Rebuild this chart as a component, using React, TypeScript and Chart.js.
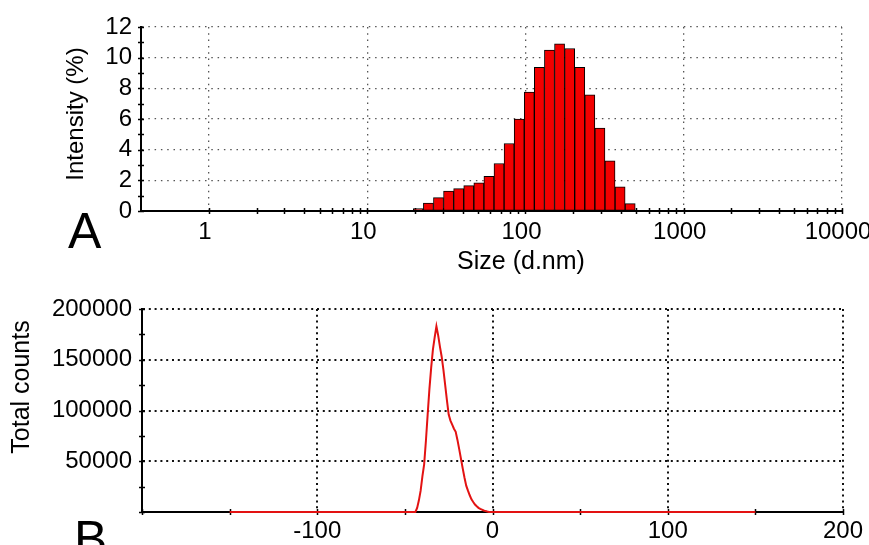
import React, { useEffect, useRef } from "react";
import { Chart, registerables } from "chart.js";

Chart.register(...registerables);

const FONT_FAMILY = '"Liberation Sans", Arial, Helvetica, sans-serif';

// ---- Panel A: size distribution by intensity ----
const sizeNm = [
  21.04, 24.36, 28.21, 32.67, 37.84, 43.82, 50.75, 58.77, 68.06, 78.82, 91.28,
  105.7, 122.4, 141.8, 164.2, 190.1, 220.2, 255.0, 295.3, 342.0, 396.1, 458.7,
];
const intensityPct = [
  0.15, 0.52, 0.87, 1.3, 1.46, 1.65, 1.83, 2.26, 3.1, 4.4, 6.0,
  7.76, 9.37, 10.5, 10.9, 10.6, 9.37, 7.57, 5.4, 3.28, 1.57, 0.48,
];
const sizeTicks = [
  1, 2, 3, 4, 5, 6, 7, 8, 9,
  10, 20, 30, 40, 50, 60, 70, 80, 90,
  100, 200, 300, 400, 500, 600, 700, 800, 900,
  1000, 2000, 3000, 4000, 5000, 6000, 7000, 8000, 9000,
  10000,
];
const sizeLabelled = [1, 10, 100, 1000, 10000];
const intensityTicks = [0, 1, 2, 3, 4, 5, 6, 7, 8, 9, 10, 11, 12];
const intensityLabelled = [0, 2, 4, 6, 8, 10, 12];
const intensityGrid = [2, 4, 6, 8, 10, 12];

// ---- Panel B: zeta potential distribution ----
const zetaMv = [
  -150, -45, -44, -43, -42, -41, -40, -39, -38, -37, -36, -35, -34, -33, -32,
  -31, -30, -29, -28, -27, -26, -25, -24, -23, -22, -21, -20, -19, -18, -17,
  -16, -15, -14, -13, -12, -11, -10, -9, -8, -7, -6, -5, -4, -3, -2, -1, 150,
];
const totalCounts = [
  0, 0, 0, 4000, 11500, 21000, 35000, 47000, 70000, 96000, 121000, 142000,
  160000, 172000, 183000, 174000, 163000, 153000, 140000, 125000, 110000,
  96000, 90000, 86000, 82000, 79000, 71000, 62000, 52500, 43000, 34000, 26000,
  21000, 16500, 12500, 9800, 7400, 5600, 4100, 3000, 2300, 1500, 900, 450, 100,
  0, 0,
];
const zetaTicks = [-200, -150, -100, -50, 0, 50, 100, 150, 200];
const zetaLabelled = [-100, 0, 100, 200];
const countTicks = [0, 25000, 50000, 75000, 100000, 125000, 150000, 175000, 200000];
const countLabelled = [50000, 100000, 150000, 200000];

type TextItem = {
  text: string;
  x: number;
  y: number;
  size: number;
  rotate?: number;
  align?: CanvasTextAlign;
  baseline?: CanvasTextBaseline;
};

// Small "+" marks across both axis lines at every tick the scales hold.
function crossTicks(size: number, width: number) {
  return {
    id: "crossTicks",
    beforeDatasetsDraw(chart: any) {
      const { ctx, chartArea } = chart;
      const xs = chart.scales.x;
      const ys = chart.scales.y;
      ctx.save();
      ctx.strokeStyle = "#000";
      ctx.lineWidth = width;
      ctx.beginPath();
      for (const t of xs.ticks) {
        const px = Math.round(xs.getPixelForValue(t.value)) + 0.5;
        ctx.moveTo(px, chartArea.bottom - size);
        ctx.lineTo(px, chartArea.bottom + size);
      }
      for (const t of ys.ticks) {
        const py = Math.round(ys.getPixelForValue(t.value)) + 0.5;
        ctx.moveTo(chartArea.left - size, py);
        ctx.lineTo(chartArea.left + size, py);
      }
      ctx.stroke();
      ctx.restore();
    },
  };
}

// Axis titles and the panel letter.
function panelText(items: TextItem[]) {
  return {
    id: "panelText",
    afterDraw(chart: any) {
      const ctx = chart.ctx as CanvasRenderingContext2D;
      for (const it of items) {
        ctx.save();
        ctx.font = `${it.size}px ${FONT_FAMILY}`;
        ctx.fillStyle = "#000";
        ctx.textAlign = it.align ?? "center";
        ctx.textBaseline = it.baseline ?? "middle";
        ctx.translate(it.x, it.y);
        if (it.rotate) ctx.rotate(it.rotate);
        ctx.fillText(it.text, 0, 0);
        ctx.restore();
      }
    },
  };
}

const tickFont = { family: FONT_FAMILY, size: 24 };

function SizeChart() {
  const ref = useRef<HTMLCanvasElement>(null);
  useEffect(() => {
    const chart = new Chart(ref.current!, {
      type: "bar",
      data: {
        datasets: [
          {
            data: sizeNm.map((s, i) => ({ x: s, y: intensityPct[i] })),
            backgroundColor: "#f20000",
            borderColor: "#000",
            borderWidth: 1,
            borderSkipped: false,
            barThickness: "flex",
            barPercentage: 1,
            categoryPercentage: 1,
          },
        ],
      },
      options: {
        responsive: false,
        animation: false,
        events: [],
        layout: { padding: { top: 27, right: 27, left: 0, bottom: 0 } },
        plugins: { legend: { display: false }, tooltip: { enabled: false } },
        scales: {
          x: {
            type: "logarithmic",
            min: 0.372,
            max: 10000,
            offset: false,
            afterBuildTicks: (s: any) => {
              s.ticks = sizeTicks.map((v) => ({ value: v }));
            },
            afterFit: (s: any) => {
              s.height = 69;
              s.paddingLeft = 0;
              s.paddingRight = 0;
            },
            ticks: {
              autoSkip: false,
              maxRotation: 0,
              padding: 7,
              labelOffset: -4,
              color: "#000",
              font: tickFont,
              callback: (v: any) => (sizeLabelled.includes(Number(v)) ? String(v) : ""),
            },
            grid: {
              offset: false,
              drawTicks: false,
              lineWidth: 1.3,
              color: (c: any) =>
                c.tick && sizeLabelled.includes(c.tick.value) ? "#555" : "rgba(0,0,0,0)",
            },
            border: { display: true, color: "#000", width: 2, dash: [1.5, 4.8] },
          },
          y: {
            min: 0,
            max: 12,
            afterBuildTicks: (s: any) => {
              s.ticks = intensityTicks.map((v) => ({ value: v }));
            },
            afterFit: (s: any) => {
              s.width = 141;
              s.paddingTop = 0;
              s.paddingBottom = 0;
            },
            ticks: {
              autoSkip: false,
              padding: 9,
              color: "#000",
              font: tickFont,
              callback: (v: any) => (intensityLabelled.includes(Number(v)) ? String(v) : ""),
            },
            grid: {
              drawTicks: false,
              lineWidth: 1.3,
              color: (c: any) =>
                c.tick && intensityGrid.includes(c.tick.value) ? "#555" : "rgba(0,0,0,0)",
            },
            border: { display: true, color: "#000", width: 2, dash: [1.5, 4.8] },
          },
        },
      },
      plugins: [
        crossTicks(3, 1.5),
        panelText([
          { text: "Intensity (%)", x: 76, y: 114, size: 24, rotate: -Math.PI / 2 },
          { text: "Size (d.nm)", x: 521, y: 262, size: 25 },
          { text: "A", x: 68, y: 248, size: 50, align: "left", baseline: "alphabetic" },
        ]),
      ],
    } as any);
    return () => chart.destroy();
  }, []);
  return <canvas ref={ref} width={869} height={280} style={{ display: "block" }} />;
}

function ZetaChart() {
  const ref = useRef<HTMLCanvasElement>(null);
  useEffect(() => {
    const chart = new Chart(ref.current!, {
      type: "line",
      data: {
        datasets: [
          {
            data: zetaMv.map((z, i) => ({ x: z, y: totalCounts[i] })),
            borderColor: "#e31212",
            borderWidth: 2,
            pointRadius: 0,
            tension: 0,
            fill: false,
            clip: false,
          },
        ],
      },
      options: {
        responsive: false,
        animation: false,
        events: [],
        layout: { padding: { top: 29, right: 26, left: 0, bottom: 0 } },
        plugins: { legend: { display: false }, tooltip: { enabled: false } },
        scales: {
          x: {
            type: "linear",
            min: -200,
            max: 200,
            afterBuildTicks: (s: any) => {
              s.ticks = zetaTicks.map((v) => ({ value: v }));
            },
            afterFit: (s: any) => {
              s.height = 33;
              s.paddingLeft = 0;
              s.paddingRight = 0;
            },
            ticks: {
              autoSkip: false,
              maxRotation: 0,
              padding: 5,
              color: "#000",
              font: tickFont,
              callback: (v: any) => (zetaLabelled.includes(Number(v)) ? String(v) : ""),
            },
            grid: {
              drawTicks: false,
              lineWidth: 2,
              color: (c: any) =>
                c.tick && zetaLabelled.includes(c.tick.value) ? "#111" : "rgba(0,0,0,0)",
            },
            border: { display: true, color: "#000", width: 2, dash: [2, 3.8] },
          },
          y: {
            min: 0,
            max: 200000,
            afterBuildTicks: (s: any) => {
              s.ticks = countTicks.map((v) => ({ value: v }));
            },
            afterFit: (s: any) => {
              s.width = 142;
              s.paddingTop = 0;
              s.paddingBottom = 0;
            },
            ticks: {
              autoSkip: false,
              padding: 10,
              color: "#000",
              font: tickFont,
              callback: (v: any) => (countLabelled.includes(Number(v)) ? String(v) : ""),
            },
            grid: {
              drawTicks: false,
              lineWidth: 2,
              color: (c: any) =>
                c.tick && countLabelled.includes(c.tick.value) ? "#111" : "rgba(0,0,0,0)",
            },
            border: { display: true, color: "#000", width: 2, dash: [2, 3.8] },
          },
        },
      },
      plugins: [
        crossTicks(3, 1.5),
        panelText([
          { text: "Total counts", x: 22, y: 107, size: 25, rotate: -Math.PI / 2 },
          { text: "B", x: 74, y: 276, size: 50, align: "left", baseline: "alphabetic" },
        ]),
      ],
    } as any);
    return () => chart.destroy();
  }, []);
  return <canvas ref={ref} width={869} height={265} style={{ display: "block" }} />;
}

export default function App() {
  return (
    <div
      style={{
        position: "absolute",
        left: 0,
        top: 0,
        width: 869,
        height: 545,
        background: "#fff",
        overflow: "hidden",
      }}
    >
      <SizeChart />
      <ZetaChart />
    </div>
  );
}
